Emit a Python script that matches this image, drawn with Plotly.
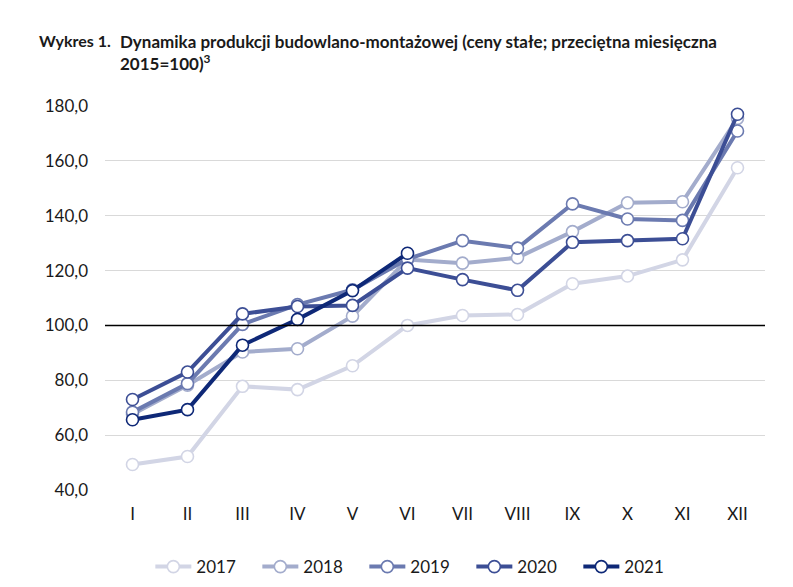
import plotly.graph_objects as go

months = ["I", "II", "III", "IV", "V", "VI", "VII", "VIII", "IX", "X", "XI", "XII"]
y2017 = [49.3, 52.2, 77.8, 76.6, 85.3, 100.0, 103.6, 104.0, 115.2, 118.0, 123.9, 157.5]
y2018 = [67.6, 78.2, 90.3, 91.5, 103.4, 124.0, 122.7, 124.7, 134.2, 144.7, 145.1, 175.5]
y2019 = [68.4, 78.8, 100.4, 107.6, 113.0, 124.2, 130.9, 128.2, 144.3, 138.8, 138.3, 170.9]
y2020 = [73.0, 83.0, 104.2, 106.9, 107.3, 120.9, 116.7, 112.8, 130.3, 130.9, 131.6, 177.0]
y2021 = [65.6, 69.3, 92.8, 102.2, 112.7, 126.3]

series = [
    ("2017", y2017, "#d2d5e5"),
    ("2018", y2018, "#a3accc"),
    ("2019", y2019, "#6b7ab0"),
    ("2020", y2020, "#3c4e95"),
    ("2021", y2021, "#0e2877"),
]

y_ticks = [40, 60, 80, 100, 120, 140, 160, 180]
BASELINE = 100

fig = go.Figure()
for name, vals, col in series:
    fig.add_trace(go.Scatter(
        x=list(range(len(vals))), y=vals, name=name, mode="lines+markers",
        line=dict(color=col, width=4),
        marker=dict(size=12, color="white", line=dict(color=col, width=1.6)),
    ))

fig.add_hline(y=BASELINE, line=dict(color="black", width=1.5))

font_main = "Lato"
fig.update_layout(
    width=793, height=587,
    margin=dict(l=105, r=28, t=106, b=97, autoexpand=False),
    paper_bgcolor="white", plot_bgcolor="white",
    separators=", ",
    showlegend=True,
    font=dict(family=font_main, size=17, color="#1a1a1a"),
    legend=dict(orientation="h", x=0.474, xanchor="center",
                yref="container", y=0.034, yanchor="middle",
                font=dict(size=17, color="#1a1a1a"), itemwidth=36,
                entrywidth=56, entrywidthmode="pixels", traceorder="normal"),
    xaxis=dict(
        range=[-0.5, 11.5], tickmode="array", tickvals=list(range(12)), ticktext=months,
        showgrid=False, zeroline=False, showline=False, ticks="",
        ticklabelstandoff=12,
        tickfont=dict(size=17, color="#1a1a1a"),
    ),
    yaxis=dict(
        range=[40, 180], tickmode="array", tickvals=y_ticks, tickformat=".1f",
        showgrid=True, gridcolor="#d9d9d9", gridwidth=1.2, zeroline=False,
        showline=False, ticks="", ticklabelstandoff=16,
        tickfont=dict(size=17, color="#1a1a1a"),
    ),
    annotations=[
        dict(text="<b>Wykres 1.</b>", xref="paper", yref="paper", x=-0.103, y=1.2,
             xanchor="left", yanchor="top", showarrow=False, align="left",
             font=dict(family=font_main, size=16, color="#1a1a1a")),
        dict(text="<b>Dynamika produkcji budowlano-montażowej (ceny stałe; przeciętna miesięczna<br>2015=100)<sup>3</sup></b>",
             xref="paper", yref="paper", x=0.0197, y=1.2, xanchor="left", yanchor="top",
             showarrow=False, align="left",
             font=dict(family=font_main, size=17, color="#1a1a1a")),
    ],
)

fig.write_html("out.html")
